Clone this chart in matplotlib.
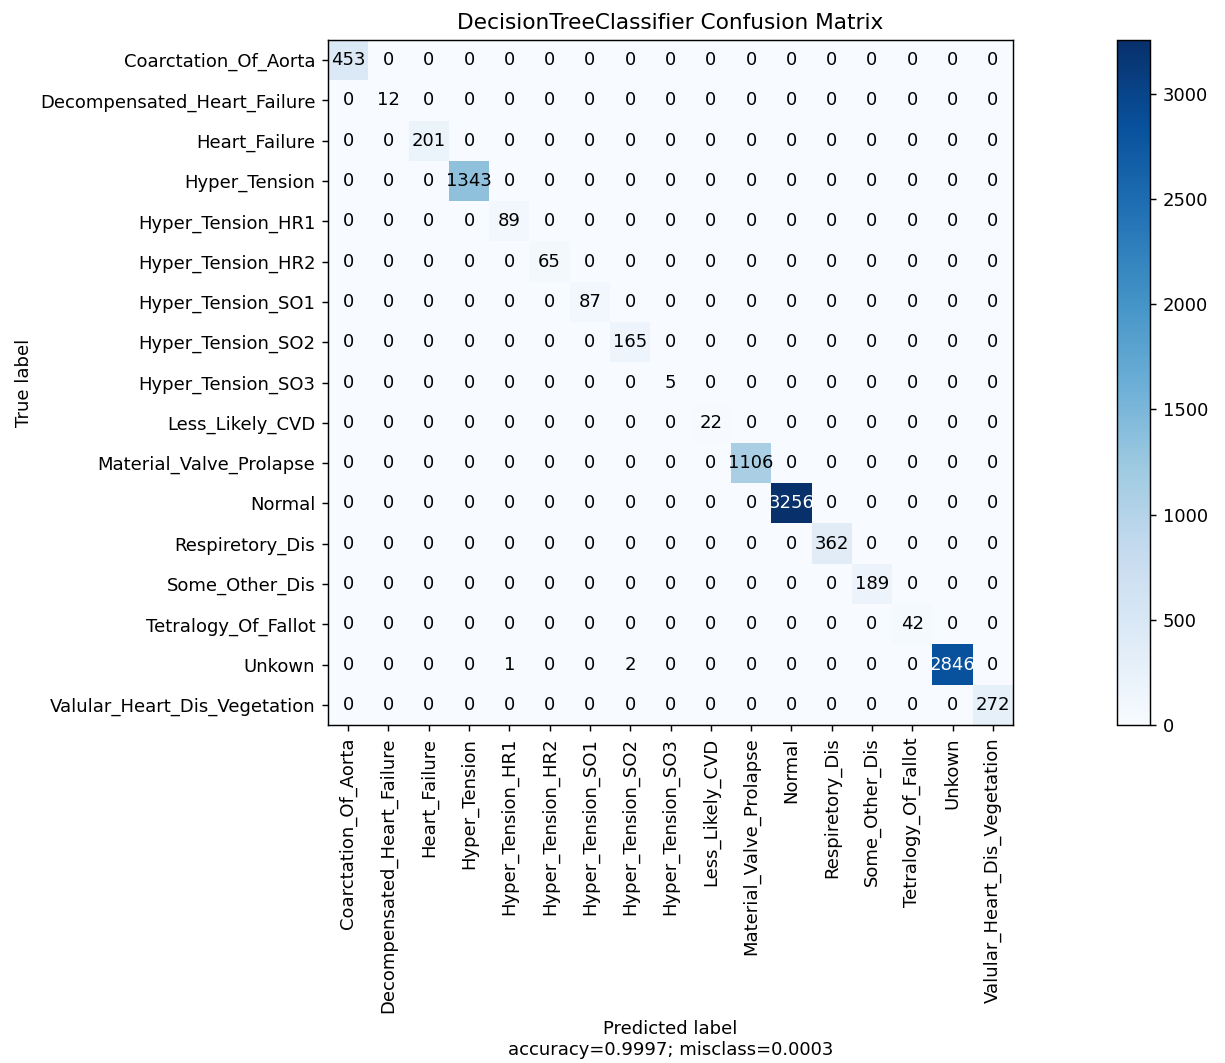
import numpy as np
import matplotlib
matplotlib.use("Agg")
import matplotlib.pyplot as plt

classes = [
    "Coarctation_Of_Aorta", "Decompensated_Heart_Failure", "Heart_Failure",
    "Hyper_Tension", "Hyper_Tension_HR1", "Hyper_Tension_HR2",
    "Hyper_Tension_SO1", "Hyper_Tension_SO2", "Hyper_Tension_SO3",
    "Less_Likely_CVD", "Material_Valve_Prolapse", "Normal",
    "Respiretory_Dis", "Some_Other_Dis", "Tetralogy_Of_Fallot",
    "Unkown", "Valular_Heart_Dis_Vegetation",
]

# correct predictions per class (diagonal)
diagonal = [453, 12, 201, 1343, 89, 65, 87, 165, 5, 22, 1106, 3256, 362, 189, 42, 2846, 272]

# misclassified samples: (true index, predicted index, count)
errors = [(15, 4, 1), (15, 7, 2)]

n = len(classes)
cm = np.zeros((n, n), dtype=int)
for i, v in enumerate(diagonal):
    cm[i, i] = v
for t, p, c in errors:
    cm[t, p] = c

accuracy = np.trace(cm) / cm.sum()
misclass = 1 - accuracy

DPI = 130
fig = plt.figure(figsize=(1225 / DPI, 1063 / DPI), dpi=DPI)
ax = fig.add_axes([328 / 1225, 1 - 725 / 1063, 685 / 1225, 685 / 1063])
cax = fig.add_axes([1117 / 1225, 1 - 725 / 1063, 33 / 1225, 685 / 1063])

im = ax.imshow(cm, interpolation="nearest", cmap=plt.cm.Blues)
ax.set_title("DecisionTreeClassifier Confusion Matrix", fontsize=12)
fig.colorbar(im, cax=cax)

ticks = np.arange(n)
ax.set_xticks(ticks)
ax.set_xticklabels(classes, rotation=90)
ax.set_yticks(ticks)
ax.set_yticklabels(classes)

thresh = cm.max() / 2
for i in range(n):
    for j in range(n):
        ax.text(j, i, "{}".format(cm[i, j]), ha="center", va="center",
                color="white" if cm[i, j] > thresh else "black")

ax.set_ylabel("True label")
ax.set_xlabel("Predicted label\naccuracy={:0.4f}; misclass={:0.4f}".format(accuracy, misclass))

fig.savefig("out.png", dpi=DPI)
